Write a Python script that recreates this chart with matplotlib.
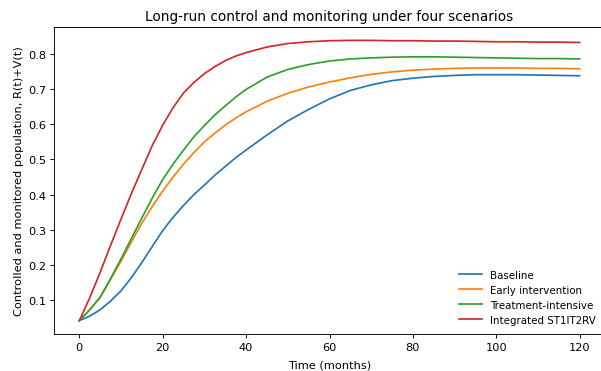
import matplotlib
matplotlib.use("Agg")
import matplotlib.pyplot as plt

# time grid (months) and values
months = [0, 2.5, 5, 7.5, 10, 12.5, 15, 17.5, 20, 22.5, 25, 27.5, 30, 32.5, 35, 37.5, 40,
          45, 50, 55, 60, 65, 70, 75, 80, 85, 90, 95, 100, 105, 110, 115, 120]

baseline = [0.040, 0.053, 0.071, 0.096, 0.125, 0.163, 0.206, 0.252, 0.297, 0.335, 0.369,
            0.400, 0.427, 0.455, 0.480, 0.505, 0.527,
            0.570, 0.610, 0.643, 0.673, 0.697, 0.713, 0.725, 0.732, 0.737, 0.740, 0.742,
            0.742, 0.742, 0.741, 0.740, 0.739]
early = [0.040, 0.071, 0.106, 0.158, 0.210, 0.265, 0.318, 0.366, 0.410, 0.450, 0.487,
         0.520, 0.550, 0.575, 0.598, 0.618, 0.636,
         0.666, 0.689, 0.707, 0.721, 0.733, 0.743, 0.750, 0.755, 0.758, 0.760, 0.761,
         0.761, 0.761, 0.760, 0.760, 0.759]
treatment = [0.040, 0.071, 0.107, 0.160, 0.216, 0.275, 0.333, 0.390, 0.443, 0.487, 0.527,
             0.565, 0.597, 0.627, 0.653, 0.678, 0.700,
             0.735, 0.757, 0.771, 0.781, 0.787, 0.790, 0.792, 0.793, 0.793, 0.792, 0.791,
             0.790, 0.789, 0.788, 0.788, 0.787]
integrated = [0.040, 0.105, 0.178, 0.255, 0.330, 0.403, 0.472, 0.540, 0.598, 0.648, 0.690,
              0.720, 0.745, 0.765, 0.782, 0.795, 0.805,
              0.821, 0.831, 0.836, 0.839, 0.840, 0.840, 0.839, 0.839, 0.838, 0.838, 0.837,
              0.836, 0.836, 0.835, 0.835, 0.834]

labels = ['Baseline', 'Early intervention', 'Treatment-intensive', 'Integrated ST1IT2RV']
series = [baseline, early, treatment, integrated]

# reference looks like a larger figure scaled down, so draw at a lower dpi
dpi = 82
fig = plt.figure(figsize=(601 / dpi, 372 / dpi), dpi=dpi)
# axes runs a little past the right edge of the picture, like the reference crop
ax = fig.add_axes([54.3 / 601, 36.7 / 372, 550.4 / 601, 307.6 / 372])

for vals, lab in zip(series, labels):
    ax.plot(months, vals, label=lab)

ax.set_ylim(0.001, 0.879)
ax.set_title('Long-run control and monitoring under four scenarios')
ax.set_xlabel('Time (months)', labelpad=6)
ax.set_ylabel('Controlled and monitored population, R(t)+V(t)')
ax.legend(loc='lower right', frameon=False, fontsize=9, handlelength=2.2)

plt.savefig('out.png', dpi=dpi)
